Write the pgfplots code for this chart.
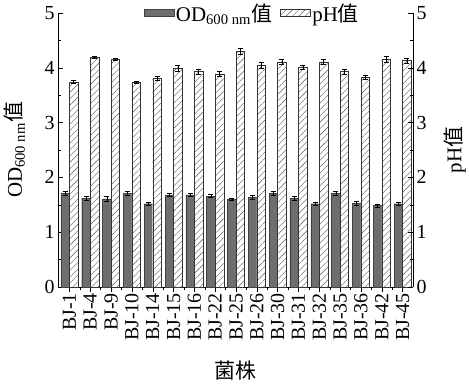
\documentclass[border=0pt]{standalone}
\usepackage{fontspec}
\setmainfont{Liberation Serif}
\newfontfamily\cjk{Noto Sans CJK SC}
\usepackage{pgfplots}
\pgfplotsset{compat=1.18}
\usetikzlibrary{patterns,patterns.meta}
\definecolor{odgray}{HTML}{6E6E6E}
\begin{document}
\begin{tikzpicture}
\path[use as bounding box] (-58bp,-98bp) rectangle (411bp,287bp);
\pgfplotsset{
  every axis/.append style={
    scale only axis, width=355bp, height=274bp,
    xmin=-0.55, xmax=16.5, ymin=0, ymax=5,
    /pgf/number format/assume math mode=true,
    tick label style={font=\fontsize{20}{20}\selectfont},
    label style={font=\fontsize{21}{21}\selectfont},
    ytick={0,1,2,3,4,5},
    minor ytick={0.5,1.5,2.5,3.5,4.5},
    ytick style={black, thin},
    major tick length=5bp, minor tick length=3bp,
  }
}
\begin{axis}[
  clip=false,
  axis x line*=bottom, axis y line*=left,
  axis line style={black, thin},
  xtick={0,...,16},
  minor xtick={0.5,1.5,...,15.5},
  xtick style={black, thin},
  x tick label style={rotate=90, anchor=east, inner sep=1bp},
  xticklabels={BJ-1,BJ-4,BJ-9,BJ-10,BJ-14,BJ-15,BJ-16,BJ-22,BJ-25,BJ-26,BJ-30,BJ-31,BJ-32,BJ-35,BJ-36,BJ-42,BJ-45},
  tick align=inside,
  x tick style={/pgfplots/tick align=outside},
  xlabel={\cjk 菌株},
  xlabel style={at={(axis description cs:0.5,0)}, anchor=center, yshift=-84bp},
  ybar, bar width=0.41,
  legend style={at={(axis description cs:0.547,1.0)}, anchor=center, draw=none, fill=none,
    legend columns=2, font=\fontsize{21}{21}\selectfont,
    /tikz/every even column/.append style={column sep=6bp}},
  legend image code/.code={\draw[#1] (0bp,-3bp) rectangle (30bp,4bp);},
]
\addplot[bar shift=-0.205, fill=odgray, draw=black!75, line width=0.4pt,
  error bars/.cd, y dir=both, y explicit, error bar style={black, line width=0.5pt}, error mark options={rotate=90, mark size=2.5bp, black}]
coordinates {
(0,1.71) +- (0,0.04)
(1,1.62) +- (0,0.03)
(2,1.61) +- (0,0.04)
(3,1.71) +- (0,0.04)
(4,1.52) +- (0,0.03)
(5,1.68) +- (0,0.03)
(6,1.68) +- (0,0.03)
(7,1.66) +- (0,0.03)
(8,1.60) +- (0,0.02)
(9,1.64) +- (0,0.03)
(10,1.71) +- (0,0.03)
(11,1.62) +- (0,0.03)
(12,1.52) +- (0,0.03)
(13,1.71) +- (0,0.04)
(14,1.53) +- (0,0.03)
(15,1.49) +- (0,0.03)
(16,1.52) +- (0,0.03)
};
\addlegendentry{OD\textsubscript{600 nm}{\cjk 值}}
\addplot[bar shift=0.205, fill=white, postaction={pattern={Lines[angle=45, distance=4.5bp, line width=0.4pt]}, pattern color=black!65}, draw=black!80, line width=0.4pt,
  error bars/.cd, y dir=both, y explicit, error bar style={black, line width=0.5pt}, error mark options={rotate=90, mark size=2.5bp, black}]
coordinates {
(0,3.74) +- (0,0.03)
(1,4.19) +- (0,0.02)
(2,4.15) +- (0,0.02)
(3,3.74) +- (0,0.02)
(4,3.81) +- (0,0.04)
(5,3.99) +- (0,0.05)
(6,3.93) +- (0,0.05)
(7,3.89) +- (0,0.05)
(8,4.30) +- (0,0.06)
(9,4.05) +- (0,0.06)
(10,4.11) +- (0,0.05)
(11,4.01) +- (0,0.04)
(12,4.11) +- (0,0.05)
(13,3.93) +- (0,0.05)
(14,3.83) +- (0,0.04)
(15,4.16) +- (0,0.05)
(16,4.13) +- (0,0.05)
};
\addlegendentry{pH{\cjk 值}}
\node[rotate=90, anchor=center, font=\fontsize{21}{21}\selectfont] at (rel axis cs:-0.122,0.5) {OD\textsubscript{600 nm}{\cjk 值}};
\node[rotate=90, anchor=center, font=\fontsize{21}{21}\selectfont] at (rel axis cs:1.118,0.5) {pH{\cjk 值}};
\end{axis}
\begin{axis}[
  axis x line=none, axis y line*=right,
  axis line style={black, thin},
  tick align=inside,
]
\end{axis}
\end{tikzpicture}
\end{document}
